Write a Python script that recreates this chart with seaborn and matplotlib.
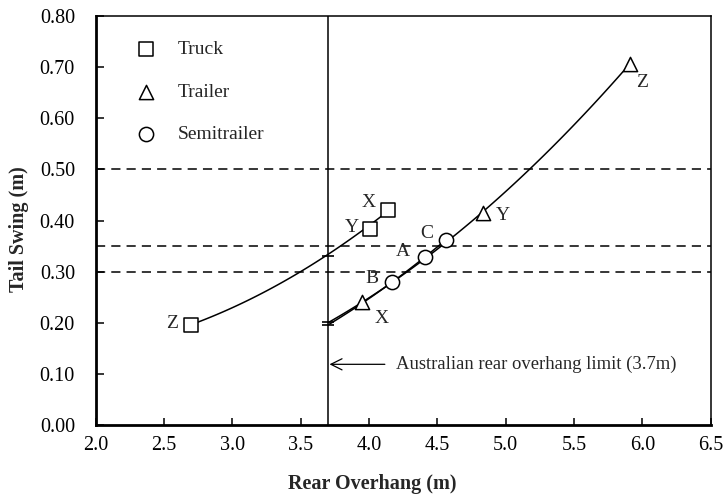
import matplotlib
matplotlib.use("Agg")
import matplotlib.pyplot as plt
import seaborn as sns
import pandas as pd

# ---- data ----
truck_x = [2.70, 4.01, 4.14]
truck_y = [0.195, 0.384, 0.420]
truck_lab = ["Z", "Y", "X"]

trailer_x = [3.95, 4.83, 5.91]
trailer_y = [0.240, 0.414, 0.706]
trailer_lab = ["X", "Y", "Z"]

semi_x = [4.17, 4.41, 4.56]
semi_y = [0.280, 0.329, 0.362]
semi_lab = ["B", "A", "C"]

# trendline points
truck_curve_x = [2.70, 2.98, 3.35, 3.70, 4.14]
truck_curve_y = [0.195, 0.230, 0.278, 0.331, 0.420]
trailer_curve_x = [3.70, 3.95, 4.17, 4.41, 4.83, 4.98, 5.16, 5.47, 5.91]
trailer_curve_y = [0.200, 0.240, 0.280, 0.329, 0.415, 0.446, 0.500, 0.581, 0.706]
semi_curve_x = [3.70, 4.17, 4.41, 4.56]
semi_curve_y = [0.196, 0.280, 0.329, 0.362]

limit_marks_y = [0.331, 0.201, 0.195]
limit_x = 3.7
ref_lines = [0.30, 0.35, 0.50]

x_ticks = [2.0, 2.5, 3.0, 3.5, 4.0, 4.5, 5.0, 5.5, 6.0, 6.5]
y_ticks = [0.0, 0.1, 0.2, 0.3, 0.4, 0.5, 0.6, 0.7, 0.8]

sns.set_style("ticks")
plt.rcParams["font.family"] = ["Liberation Serif", "DejaVu Serif"]
plt.rcParams["xtick.direction"] = "in"
plt.rcParams["ytick.direction"] = "in"

fig = plt.figure(figsize=(7.26, 4.95), dpi=100)
ax = fig.add_axes([0.132, 0.141, 0.847, 0.827])

# trendlines
for cx, cy in [(truck_curve_x, truck_curve_y), (trailer_curve_x, trailer_curve_y),
               (semi_curve_x, semi_curve_y)]:
    sns.regplot(x=cx, y=cy, order=2, ci=None, scatter=False, ax=ax,
                line_kws=dict(color="black", lw=1.1))

# reference lines
for yv in ref_lines:
    ax.axhline(yv, color="black", lw=1.1, ls=(0, (6, 4)), zorder=1)
ax.axvline(limit_x, color="black", lw=1.1, zorder=1)

# short marks where curves meet the limit
sns.scatterplot(x=[limit_x] * len(limit_marks_y), y=limit_marks_y, marker="_",
                s=80, color="black", linewidth=1.2, ax=ax, zorder=4)

# markers
mk = dict(s=105, facecolor="white", edgecolor="black", linewidth=1.1, zorder=5)
sns.scatterplot(x=truck_x, y=truck_y, marker="s", label="Truck", ax=ax, **mk)
sns.scatterplot(x=trailer_x, y=trailer_y, marker="^", label="Trailer", ax=ax, **mk)
sns.scatterplot(x=semi_x, y=semi_y, marker="o", label="Semitrailer", ax=ax, **mk)

# point labels
fs_pt = 14
offsets = {
    ("T", "Z"): (-0.14, 0.004), ("T", "Y"): (-0.14, 0.002), ("T", "X"): (-0.14, 0.016),
    ("R", "X"): (0.14, -0.032), ("R", "Y"): (0.15, -0.004), ("R", "Z"): (0.09, -0.036),
    ("S", "B"): (-0.15, 0.006), ("S", "A"): (-0.16, 0.01), ("S", "C"): (-0.14, 0.012),
}
for key, xs, ys, labs in [("T", truck_x, truck_y, truck_lab),
                          ("R", trailer_x, trailer_y, trailer_lab),
                          ("S", semi_x, semi_y, semi_lab)]:
    for xv, yv, lb in zip(xs, ys, labs):
        dx, dy = offsets[(key, lb)]
        ax.text(xv + dx, yv + dy, lb, fontsize=fs_pt, ha="center", va="center")

# annotation
ax.annotate("Australian rear overhang limit (3.7m)", xy=(limit_x + 0.01, 0.119),
            xytext=(4.20, 0.119), fontsize=13.4, va="center", ha="left",
            arrowprops=dict(arrowstyle="->", color="black", lw=0.9,
                            mutation_scale=20, shrinkA=6, shrinkB=0))

ax.set_xlim(2.0, 6.5)
ax.set_ylim(0.0, 0.8)
ax.set_xticks(x_ticks)
ax.set_xticklabels([f"{v:.1f}" for v in x_ticks])
ax.set_yticks(y_ticks)
ax.set_yticklabels([f"{v:.2f}" for v in y_ticks])
ax.tick_params(axis="y", labelsize=14.5, length=6, width=1.1, colors="black", pad=15)
ax.tick_params(axis="x", labelsize=14.5, length=5, width=1.1, colors="black", pad=8)
ax.set_xlabel("Rear Overhang (m)", fontsize=14.5, fontweight="bold")
ax.set_ylabel("Tail Swing (m)", fontsize=14.5, fontweight="bold")
ax.xaxis.set_label_coords(0.449, -0.12)
ax.yaxis.set_label_coords(-0.108, 0.479)

for side in ["left", "bottom"]:
    ax.spines[side].set_linewidth(2.0)
for side in ["top", "right"]:
    ax.spines[side].set_visible(True)
    ax.spines[side].set_linewidth(1.1)
for s in ax.spines.values():
    s.set_color("black")

leg = ax.legend(loc="upper left", bbox_to_anchor=(0.022, 0.982), frameon=False,
                fontsize=14, labelspacing=1.27, handletextpad=0.6, markerscale=1.0)
for h in leg.legend_handles:
    h.set_facecolor("white")
    h.set_edgecolor("black")

fig.savefig("out.png", dpi=100)
